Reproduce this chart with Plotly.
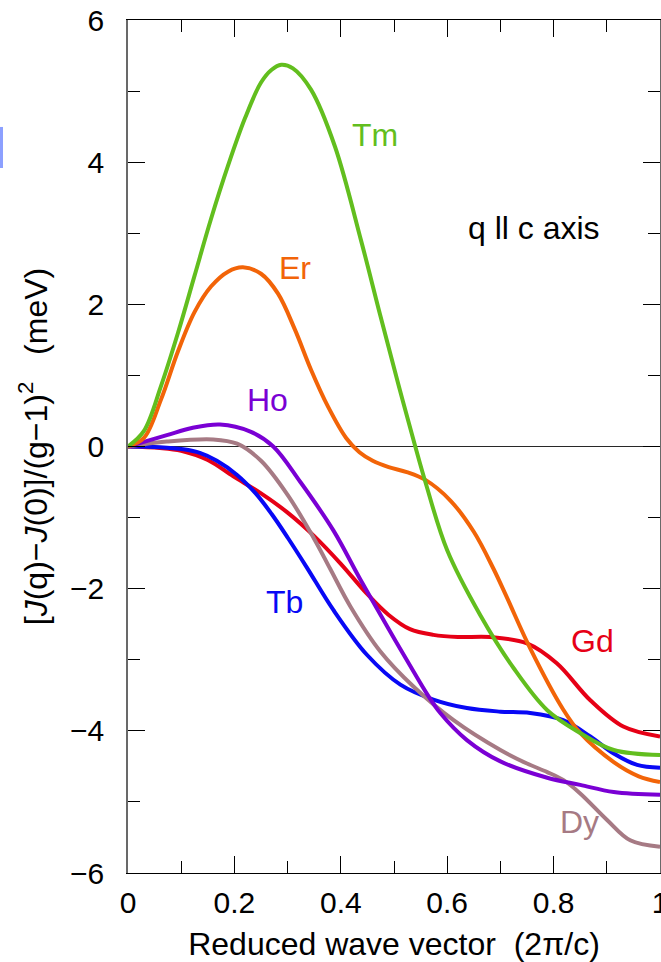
import plotly.graph_objects as go

# Reduced wave vector (2pi/c) and [J(q)-J(0)]/(g-1)^2 (meV)
gd_q = [0.00, 0.06, 0.10, 0.15, 0.198, 0.25, 0.30, 0.35, 0.40, 0.449, 0.49,
        0.53, 0.574, 0.62, 0.681, 0.75, 0.806, 0.869, 0.931, 1.00]
gd_v = [0.00, -0.02, -0.06, -0.19, -0.42, -0.66, -0.93, -1.26, -1.65, -2.07, -2.37,
        -2.57, -2.65, -2.68, -2.68, -2.77, -3.05, -3.57, -3.94, -4.08]

tb_q = [0.00, 0.06, 0.104, 0.135, 0.167, 0.205, 0.24, 0.27, 0.30, 0.336, 0.386,
        0.449, 0.512, 0.574, 0.637, 0.70, 0.756, 0.818, 0.869, 0.913, 0.957, 1.00]
tb_v = [0.00, -0.01, -0.04, -0.09, -0.20, -0.40, -0.66, -0.95, -1.28, -1.70, -2.30,
        -2.93, -3.35, -3.56, -3.68, -3.73, -3.75, -3.85, -4.08, -4.32, -4.48, -4.52]

dy_q = [0.00, 0.073, 0.16, 0.205, 0.25, 0.30, 0.35, 0.38, 0.418, 0.474, 0.537,
        0.612, 0.70, 0.75, 0.788, 0.818, 0.85, 0.90, 0.944, 1.00]
dy_v = [0.00, 0.07, 0.10, 0.04, -0.20, -0.68, -1.30, -1.72, -2.25, -2.88, -3.38,
        -3.85, -4.27, -4.46, -4.58, -4.69, -4.88, -5.25, -5.54, -5.63]

ho_q = [0.00, 0.073, 0.12, 0.173, 0.23, 0.273, 0.324, 0.386, 0.436, 0.487, 0.537,
        0.562, 0.587, 0.637, 0.70, 0.788, 0.85, 0.913, 1.00]
ho_v = [0.00, 0.16, 0.26, 0.31, 0.21, 0.00, -0.50, -1.18, -1.86, -2.53, -3.17,
        -3.48, -3.75, -4.13, -4.43, -4.66, -4.76, -4.86, -4.90]

er_q = [0.00, 0.03, 0.062, 0.094, 0.125, 0.156, 0.188, 0.216, 0.25, 0.282, 0.314,
        0.344, 0.376, 0.41, 0.435, 0.46, 0.49, 0.524, 0.559, 0.606, 0.65, 0.687,
        0.712, 0.756, 0.818, 0.85, 0.913, 0.96, 1.00]
er_v = [0.00, 0.12, 0.66, 1.34, 1.89, 2.25, 2.46, 2.52, 2.43, 2.15, 1.64,
        1.08, 0.56, 0.12, -0.08, -0.20, -0.29, -0.36, -0.47, -0.76, -1.20, -1.72,
        -2.12, -2.84, -3.70, -4.03, -4.44, -4.64, -4.72]

tm_q = [0.00, 0.03, 0.062, 0.094, 0.125, 0.156, 0.188, 0.22, 0.25, 0.27, 0.288,
        0.31, 0.344, 0.389, 0.438, 0.474, 0.508, 0.54, 0.559, 0.60, 0.662, 0.725,
        0.788, 0.85, 0.913, 1.00]
tm_v = [0.00, 0.22, 0.85, 1.60, 2.40, 3.20, 3.95, 4.62, 5.12, 5.30, 5.37,
        5.32, 5.02, 4.22, 2.90, 1.85, 0.88, 0.00, -0.50, -1.46, -2.37, -3.12,
        -3.71, -4.03, -4.27, -4.34]

names = ["Gd", "Tb", "Dy", "Ho", "Er", "Tm"]
xs = [gd_q, tb_q, dy_q, ho_q, er_q, tm_q]
ys = [gd_v, tb_v, dy_v, ho_v, er_v, tm_v]
colors = ["rgb(230,0,22)", "rgb(8,8,245)", "rgb(166,122,132)",
          "rgb(122,0,212)", "rgb(242,100,8)", "rgb(98,190,30)"]

# label positions (data coords)
label_x = [0.873, 0.294, 0.849, 0.263, 0.314, 0.465]
label_y = [-2.73, -2.19, -5.28, 0.65, 2.51, 4.38]

fig = go.Figure()
for n, x, y, c in zip(names, xs, ys, colors):
    fig.add_trace(go.Scatter(x=x, y=y, mode="lines", name=n,
                             line=dict(color=c, width=4, shape="spline", smoothing=1.0),
                             showlegend=False))

for n, c, lx, ly in zip(names, colors, label_x, label_y):
    fig.add_annotation(x=lx, y=ly, text=n, showarrow=False,
                       font=dict(size=32, color=c, family="Liberation Sans, Arial"),
                       xanchor="center", yanchor="middle")

fig.add_annotation(x=0.764, y=3.07, text="q ll c axis", showarrow=False,
                   font=dict(size=32, color="black", family="Liberation Sans, Arial"),
                   xanchor="center", yanchor="middle")

# small blue mark at the left edge
fig.add_shape(type="rect", xref="paper", yref="paper",
              x0=-0.2406, x1=-0.2350, y0=0.8265, y1=0.8746,
              fillcolor="rgb(140,160,255)", line=dict(width=0), layer="above")

font = dict(family="Liberation Sans, Arial", color="black")

fig.update_layout(
    width=661, height=962,
    margin=dict(l=128, r=1, t=20, b=89),
    paper_bgcolor="white", plot_bgcolor="white",
    font=font,
    xaxis=dict(range=[0, 1], dtick=0.2, tick0=0,
               ticks="inside", ticklen=17, tickwidth=1, tickcolor="black",
               minor=dict(ticks="inside", ticklen=12, dtick=0.1, tickcolor="black", tickwidth=1),
               showline=True, linecolor="black", linewidth=1, mirror="allticks",
               showgrid=False, zeroline=False,
               tickfont=dict(size=30), ticklabelstandoff=3, ticklabeloverflow="allow",
               title=dict(text="Reduced wave vector  (2\u03c0/c)", font=dict(size=32), standoff=17),
               automargin=False),
    yaxis=dict(range=[-6, 6], dtick=2, tick0=0,
               ticks="inside", ticklen=17, tickwidth=1, tickcolor="black",
               minor=dict(ticks="inside", ticklen=12, dtick=1, tickcolor="black", tickwidth=1),
               showline=True, linecolor="rgb(105,105,105)", linewidth=1.5, mirror="allticks",
               showgrid=False,
               zeroline=True, zerolinecolor="rgb(40,40,40)", zerolinewidth=1,
               tickfont=dict(size=30), ticklabelstandoff=16, ticklabeloverflow="allow",
               title=dict(text="[<i>J</i>(q)\u2212<i>J</i>(0)]/(g\u22121)<sup>2</sup>\u00a0\u00a0 (meV)",
                          font=dict(size=32), standoff=13),
               automargin=False),
)

fig.write_html("out.html",
               config={"displayModeBar": False},
               post_script="document.body.style.margin='0px';document.body.style.overflow='hidden';")
